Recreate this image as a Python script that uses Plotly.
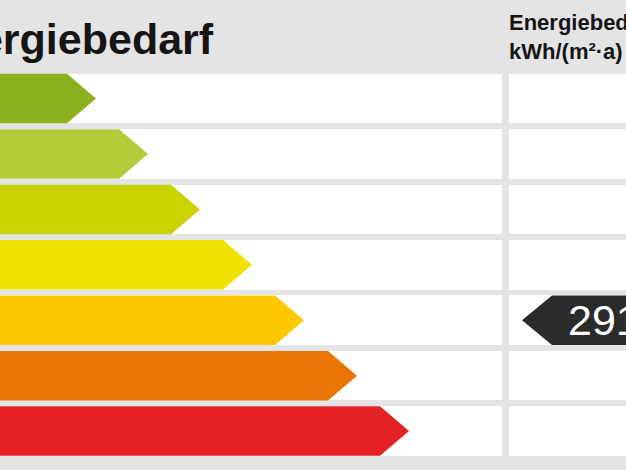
import plotly.graph_objects as go

# efficiency classes, top to bottom (class letters are cut off in the picture)
arrow_tips = [96, 148, 200, 252, 304, 357, 409]
arrow_colors = ["#8bb21e", "#b4cc3a", "#cad300", "#f0e100", "#fec800", "#eb7504", "#e42223"]
rows = list(range(len(arrow_tips)))

value = 291          # kWh/(m²·a)
value_row = 4        # class row the value falls into

header_left = "Energiebedarf"
header_right = "Energiebedarf<br>kWh/(m²·a)"

FONT = "Liberation Sans, Arial, sans-serif"
GREY = "#e4e4e4"
half = 0.447         # half bar height, in row units
point = 29           # depth of the arrow point

fig = go.Figure()

# white table cells: left column (arrows) and right column (value)
fig.add_trace(go.Bar(
    y=rows, x=[522] * len(rows), base=-20, orientation="h",
    width=2 * half, marker=dict(color="white", line=dict(width=0)),
    hoverinfo="skip"
))
fig.add_trace(go.Bar(
    y=rows, x=[140] * len(rows), base=508.5, orientation="h",
    width=2 * half, marker=dict(color="white", line=dict(width=0)),
    hoverinfo="skip"
))

# coloured arrows
for r, tip, col in zip(rows, arrow_tips, arrow_colors):
    fig.add_trace(go.Scatter(
        x=[-20, tip - point, tip, tip - point, -20, -20],
        y=[r - half, r - half, r, r + half, r + half, r - half],
        mode="lines", fill="toself", fillcolor=col,
        line=dict(width=0, color=col), hoverinfo="skip"
    ))

# dark value marker pointing left
fig.add_trace(go.Scatter(
    x=[522, 522 + 30, 700, 700, 522 + 30, 522],
    y=[value_row, value_row - half, value_row - half,
       value_row + half, value_row + half, value_row],
    mode="lines", fill="toself", fillcolor="#2b2b2b",
    line=dict(width=0, color="#2b2b2b"), hoverinfo="skip"
))
fig.add_annotation(
    x=566, y=value_row, xref="x", yref="y", text=str(value),
    showarrow=False, xanchor="left", yanchor="middle",
    font=dict(family=FONT, size=43, color="white")
)

# headers
fig.add_annotation(
    x=216 / 626, y=1 - 39 / 470, xref="paper", yref="paper",
    text="<b>%s</b>" % header_left, showarrow=False,
    xanchor="right", yanchor="middle",
    font=dict(family=FONT, size=43, color="#151515")
)
fig.add_annotation(
    x=507 / 626, y=1 - 37.5 / 470, xref="paper", yref="paper",
    text="<b>%s</b>" % header_right, showarrow=False, align="left",
    xanchor="left", yanchor="middle",
    font=dict(family=FONT, size=22, color="#151515")
)

fig.update_layout(
    width=626, height=470,
    margin=dict(l=0, r=0, t=0, b=0),
    paper_bgcolor=GREY, plot_bgcolor=GREY,
    showlegend=False, barmode="overlay", bargap=0,
    xaxis=dict(range=[0, 626], visible=False, fixedrange=True),
    yaxis=dict(range=[6.702, -1.779], visible=False, fixedrange=True),
)

# drop the default page margin so the chart sits at the window corner
fig.write_html("out.html", config={"displayModeBar": False},
               post_script="document.body.style.margin='0';")
